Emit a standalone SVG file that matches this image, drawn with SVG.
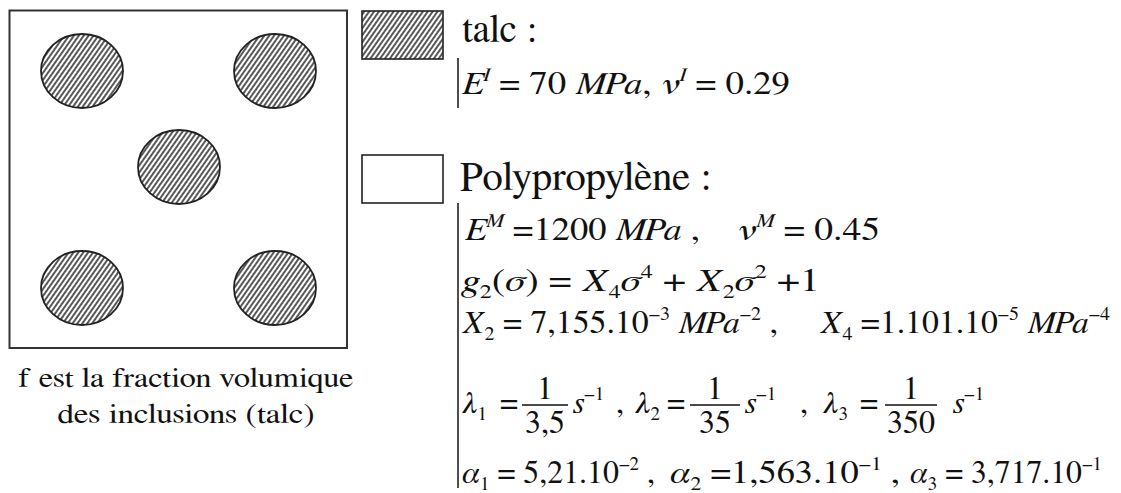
<svg xmlns="http://www.w3.org/2000/svg" width="1121" height="493" viewBox="0 0 1121 493">
<defs>
<pattern id="hatch" patternUnits="userSpaceOnUse" width="4" height="4" patternTransform="rotate(35)">
<rect width="4" height="4" fill="#fff"/>
<line x1="1" y1="-1" x2="1" y2="5" stroke="#111" stroke-width="1.4"/>
</pattern>
</defs>
<style>
text{font-family:FreeSerif,'Liberation Serif',serif;fill:#111}
.m{font-size:32px}
.i{font-style:italic}
.s{font-size:19px}
.incl{fill:url(#hatch);stroke:#222;stroke-width:1.8}
.bar{stroke:#222;stroke-width:1.6}
.fr{stroke:#111;stroke-width:1.4}
</style>
<rect width="1121" height="493" fill="#fff"/>
<g id="sample">
<rect x="9.5" y="10.5" width="337.5" height="337.5" fill="none" stroke="#333" stroke-width="2"/>
<ellipse class="incl" cx="82" cy="71" rx="41" ry="37"/>
<ellipse class="incl" cx="275" cy="71" rx="41" ry="37"/>
<ellipse class="incl" cx="179" cy="167" rx="41" ry="37"/>
<ellipse class="incl" cx="82" cy="288" rx="41" ry="37"/>
<ellipse class="incl" cx="275" cy="288" rx="41" ry="37"/>
</g>
<g id="caption">
<text x="186" y="387" font-size="27" text-anchor="middle" textLength="335" lengthAdjust="spacingAndGlyphs">f est la fraction volumique</text>
<text x="186" y="423" font-size="27" text-anchor="middle" textLength="257" lengthAdjust="spacingAndGlyphs">des inclusions (talc)</text>
</g>
<g id="legend-talc">
<rect x="362" y="11" width="81" height="48" fill="url(#hatch)" stroke="#222" stroke-width="1.6"/>
<text x="462" y="42" font-size="39">talc :</text>
<line class="bar" x1="458" y1="58" x2="458" y2="108"/>
<text class="m" x="462" y="94" textLength="328" lengthAdjust="spacingAndGlyphs"><tspan class="i">E</tspan><tspan class="i s" dy="-13">I</tspan><tspan dy="13"> = 70 </tspan><tspan class="i">MPa</tspan><tspan>, </tspan><tspan class="i">ν</tspan><tspan class="i s" dy="-13">I</tspan><tspan dy="13"> = 0.29</tspan></text>
</g>
<g id="legend-pp">
<rect x="362" y="155" width="81" height="48" fill="#fff" stroke="#222" stroke-width="1.6"/>
<text x="460" y="190" font-size="41">Polypropylène :</text>
<line class="bar" x1="458" y1="203" x2="458" y2="488"/>
<text class="m" x="465" y="240" textLength="235" lengthAdjust="spacingAndGlyphs"><tspan class="i">E</tspan><tspan class="i s" dy="-13">M</tspan><tspan dy="13"> =1200 </tspan><tspan class="i">MPa</tspan><tspan> ,</tspan></text>
<text class="m" x="737" y="240" textLength="143" lengthAdjust="spacingAndGlyphs"><tspan class="i">ν</tspan><tspan class="i s" dy="-13">M</tspan><tspan dy="13"> = 0.45</tspan></text>
<text class="m" x="462" y="291" textLength="358" lengthAdjust="spacingAndGlyphs"><tspan class="i">g</tspan><tspan class="s" dy="7">2</tspan><tspan dy="-7">(</tspan><tspan class="i">σ</tspan><tspan>) = </tspan><tspan class="i">X</tspan><tspan class="s" dy="7">4</tspan><tspan class="i" dy="-7">σ</tspan><tspan class="s" dy="-13">4</tspan><tspan dy="13"> + </tspan><tspan class="i">X</tspan><tspan class="s" dy="7">2</tspan><tspan class="i" dy="-7">σ</tspan><tspan class="s" dy="-13">2</tspan><tspan dy="13"> +1</tspan></text>
<text class="m" x="462" y="333" textLength="316" lengthAdjust="spacingAndGlyphs"><tspan class="i">X</tspan><tspan class="s" dy="7">2</tspan><tspan dy="-7"> = 7,155.10</tspan><tspan class="s" dy="-13">−3</tspan><tspan class="i" dy="13"> MPa</tspan><tspan class="s" dy="-13">−2</tspan><tspan dy="13"> ,</tspan></text>
<text class="m" x="820" y="333" textLength="290" lengthAdjust="spacingAndGlyphs"><tspan class="i">X</tspan><tspan class="s" dy="7">4</tspan><tspan dy="-7"> =1.101.10</tspan><tspan class="s" dy="-13">−5</tspan><tspan class="i" dy="13"> MPa</tspan><tspan class="s" dy="-13">−4</tspan></text>
<g id="lambdas">
<text class="m" x="462" y="413"><tspan class="i">λ</tspan><tspan class="s" dy="7">1</tspan></text>
<text class="m" x="500" y="413">=</text>
<line class="fr" x1="522" y1="405" x2="568" y2="405"/>
<text class="m" x="545" y="399" text-anchor="middle">1</text>
<text class="m" x="545" y="433" text-anchor="middle">3,5</text>
<text class="m" x="573" y="413"><tspan class="i">s</tspan><tspan class="s" dy="-13">−1</tspan></text>
<text class="m" x="616" y="413">,</text>
<text class="m" x="635" y="413"><tspan class="i">λ</tspan><tspan class="s" dy="7">2</tspan></text>
<text class="m" x="667" y="413">=</text>
<line class="fr" x1="690" y1="405" x2="740" y2="405"/>
<text class="m" x="715" y="399" text-anchor="middle">1</text>
<text class="m" x="715" y="433" text-anchor="middle">35</text>
<text class="m" x="745" y="413"><tspan class="i">s</tspan><tspan class="s" dy="-13">−1</tspan></text>
<text class="m" x="800" y="413">,</text>
<text class="m" x="823" y="413"><tspan class="i">λ</tspan><tspan class="s" dy="7">3</tspan></text>
<text class="m" x="860" y="413">=</text>
<line class="fr" x1="885" y1="405" x2="937" y2="405"/>
<text class="m" x="911" y="399" text-anchor="middle">1</text>
<text class="m" x="911" y="433" text-anchor="middle">350</text>
<text class="m" x="953" y="413"><tspan class="i">s</tspan><tspan class="s" dy="-13">−1</tspan></text>
</g>
<text class="m" x="462" y="483" textLength="193" lengthAdjust="spacingAndGlyphs"><tspan class="i">α</tspan><tspan class="s" dy="7">1</tspan><tspan dy="-7"> = 5,21.10</tspan><tspan class="s" dy="-13">−2</tspan><tspan dy="13"> ,</tspan></text>
<text class="m" x="670" y="483" textLength="230" lengthAdjust="spacingAndGlyphs"><tspan class="i">α</tspan><tspan class="s" dy="7">2</tspan><tspan dy="-7"> =1,563.10</tspan><tspan class="s" dy="-13">−1</tspan><tspan dy="13"> ,</tspan></text>
<text class="m" x="910" y="483" textLength="192" lengthAdjust="spacingAndGlyphs"><tspan class="i">α</tspan><tspan class="s" dy="7">3</tspan><tspan dy="-7"> = 3,717.10</tspan><tspan class="s" dy="-13">−1</tspan></text>
</g>
</svg>
